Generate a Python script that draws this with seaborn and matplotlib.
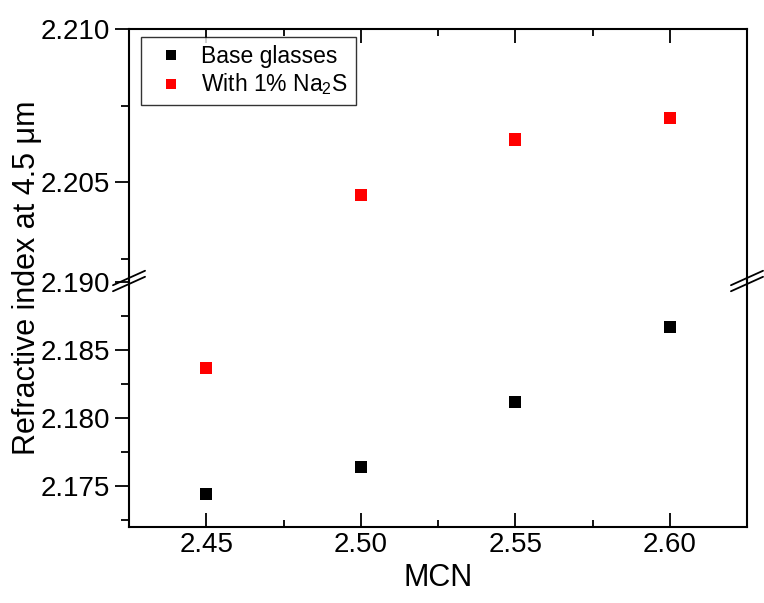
import pandas as pd
import seaborn as sns
import matplotlib.pyplot as plt
from matplotlib.ticker import MultipleLocator, FormatStrFormatter

# data
mcn = [2.45, 2.50, 2.55, 2.60]
base_glasses = [2.1744, 2.1764, 2.1812, 2.1867]
with_na2s = [2.1837, 2.2046, 2.2064, 2.2071]
series_names = ['Base glasses', 'With 1% Na$_2$S']
series_colors = ['black', 'red']

df = pd.DataFrame({
    'MCN': mcn * 2,
    'n': base_glasses + with_na2s,
    'series': [series_names[0]] * 4 + [series_names[1]] * 4,
})

sns.set_style('white')
plt.rcParams['font.family'] = ['Liberation Sans', 'DejaVu Sans']
plt.rcParams['mathtext.fontset'] = 'custom'
plt.rcParams['mathtext.rm'] = 'Liberation Sans'
plt.rcParams['mathtext.it'] = 'Liberation Sans'
for key in ['text.color', 'axes.labelcolor', 'xtick.color', 'ytick.color']:
    plt.rcParams[key] = 'black'

fig = plt.figure(figsize=(7.64, 6.03), dpi=100)
left, right = 129 / 764, 747 / 764
y_top, y_brk, y_bot = 1 - 29 / 603, 1 - 281 / 603, 1 - 527 / 603
ax_up = fig.add_axes([left, y_brk, right - left, y_top - y_brk])
ax_lo = fig.add_axes([left, y_bot, right - left, y_brk - y_bot])

pal = dict(zip(series_names, series_colors))
for ax in (ax_up, ax_lo):
    sns.scatterplot(data=df, x='MCN', y='n', hue='series', palette=pal,
                    marker='s', s=75, linewidth=0, ax=ax, legend=(ax is ax_up),
                    zorder=3)
    ax.set_xlim(2.425, 2.625)
    ax.xaxis.set_major_locator(MultipleLocator(0.05))
    ax.xaxis.set_minor_locator(MultipleLocator(0.025))
    ax.yaxis.set_major_locator(MultipleLocator(0.005))
    ax.yaxis.set_minor_locator(MultipleLocator(0.0025))
    ax.yaxis.set_major_formatter(FormatStrFormatter('%.3f'))
    ax.xaxis.set_major_formatter(FormatStrFormatter('%.2f'))
    ax.tick_params(axis='x', which='both', direction='in', width=1.3, labelsize=20)
    ax.tick_params(axis='x', which='major', length=10)
    ax.tick_params(axis='x', which='minor', length=5)
    ax.tick_params(axis='y', which='both', direction='out', width=1.3, labelsize=20,
                   right=False, left=True)
    ax.tick_params(axis='y', which='major', length=10)
    ax.tick_params(axis='y', which='minor', length=6)
    for sp in ax.spines.values():
        sp.set_linewidth(1.5)
        sp.set_color('black')
    ax.set_xlabel('')
    ax.set_ylabel('')

ax_up.set_ylim(2.20179, 2.210)
ax_lo.set_ylim(2.17195, 2.1901)
ax_up.spines['bottom'].set_visible(False)
ax_lo.spines['top'].set_visible(False)
ax_up.tick_params(axis='x', which='both', bottom=False, top=True, labelbottom=False)
ax_lo.tick_params(axis='x', which='both', bottom=True, top=False)

ax_lo.set_xlabel('MCN', fontsize=22, labelpad=4)
fig.text(0.035, (y_top + y_bot) / 2, 'Refractive index at 4.5 \u03bcm', rotation=90,
         va='center', ha='center', fontsize=22)

# axis break marks
yb = y_brk
for xs in (left, right):
    for dy in (-0.005, 0.005):
        fig.add_artist(plt.Line2D([xs - 0.021, xs + 0.021], [yb + dy - 0.012, yb + dy + 0.012],
                                  color='black', lw=1.3, transform=fig.transFigure))

handles, labels = ax_up.get_legend_handles_labels()
leg = ax_up.legend(handles, labels, loc='upper left', bbox_to_anchor=(0.019, 0.968),
                   borderaxespad=0, fontsize=16.5, frameon=True, fancybox=False,
                   edgecolor='black', handlelength=1.9, handletextpad=0.4,
                   borderpad=0.35, labelspacing=0.15, markerscale=0.8)
leg.get_frame().set_linewidth(1.0)

fig.savefig('out.png', dpi=100)
